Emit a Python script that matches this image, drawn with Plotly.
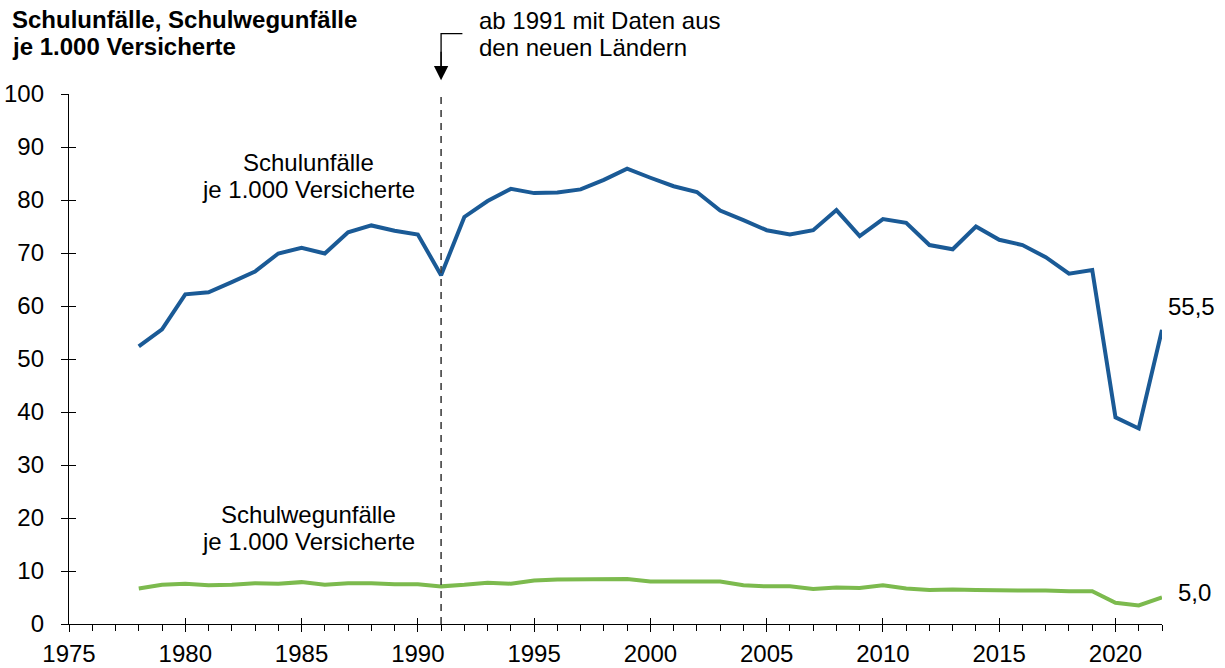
import plotly.graph_objects as go

# Jahre und Werte (je 1.000 Versicherte)
jahre = list(range(1978, 2023))
schulunfaelle = [52.4, 55.6, 62.2, 62.6, 64.5, 66.5, 69.9, 71.0, 69.9, 73.9,
                 75.2, 74.2, 73.5, 65.8, 76.8, 79.8, 82.1, 81.3, 81.4, 82.0,
                 83.8, 85.9, 84.2, 82.6, 81.5, 78.0, 76.2, 74.3, 73.5, 74.3,
                 78.1, 73.2, 76.4, 75.7, 71.5, 70.7, 75.0, 72.5, 71.5, 69.2,
                 66.1, 66.8, 39.0, 36.9, 55.5]
schulwegunfaelle = [6.7, 7.4, 7.6, 7.3, 7.4, 7.7, 7.6, 7.9, 7.4, 7.7,
                    7.7, 7.5, 7.5, 7.1, 7.4, 7.8, 7.6, 8.2, 8.4, 8.4,
                    8.5, 8.5, 8.0, 8.0, 7.9, 8.0, 7.3, 7.1, 7.1, 6.6,
                    6.9, 6.8, 7.3, 6.7, 6.4, 6.5, 6.4, 6.4, 6.4, 6.3,
                    6.2, 6.2, 4.0, 3.5, 5.0]
x_ticks = [1975, 1980, 1985, 1990, 1995, 2000, 2005, 2010, 2015, 2020]
y_ticks = list(range(0, 101, 10))
bruchjahr = 1991

BLAU = "#1a5a96"
GRUEN = "#7cba4e"
FONT = "Liberation Sans, Arial, sans-serif"
FS = 24
ZEILE = 27  # Zeilenabstand in px

x_min, x_max = 1975, 2022

fig = go.Figure()

fig.add_trace(go.Scatter(x=jahre, y=schulunfaelle, mode="lines",
                         line=dict(color=BLAU, width=4), hoverinfo="x+y"))
# zweite Reihe auf den überlagerten Achsen (für die gekreuzten Ticks)
fig.add_trace(go.Scatter(x=jahre, y=schulwegunfaelle, mode="lines",
                         line=dict(color=GRUEN, width=4), hoverinfo="x+y",
                         xaxis="x2", yaxis="y2"))

achse = dict(showline=True, linecolor="black", linewidth=1.3, showgrid=False,
             zeroline=False, tickcolor="black", tickwidth=1.3, automargin=False)

fig.update_layout(
    width=1225, height=668,
    margin=dict(l=69, r=63, t=94, b=44),
    plot_bgcolor="white", paper_bgcolor="white",
    showlegend=False,
    font=dict(family=FONT, size=FS, color="black"),
    xaxis=dict(achse, range=[x_min, x_max], tickvals=x_ticks, ticks="outside",
               ticklen=7, ticklabelstandoff=1,
               minor=dict(ticks="outside", ticklen=6, dtick=1, tick0=1975,
                          tickcolor="black", tickwidth=1.3, showgrid=False)),
    yaxis=dict(achse, range=[0, 100], tickvals=y_ticks, ticks="outside",
               ticklen=7, ticklabelstandoff=12),
    xaxis2=dict(achse, range=[x_min, x_max], tickvals=x_ticks, ticks="inside",
                ticklen=6, showticklabels=False, overlaying="x"),
    yaxis2=dict(achse, range=[0, 100], tickvals=y_ticks, ticks="inside",
                ticklen=7, showticklabels=False, overlaying="y"),
)


def text_zeilen(zeilen, x, y, xref="x", yref="y", xanchor="center", fett=False):
    # mehrzeiliger Text mit engem Zeilenabstand
    n = len(zeilen)
    for i, z in enumerate(zeilen):
        fig.add_annotation(x=x, y=y, xref=xref, yref=yref, showarrow=False,
                           text=f"<b>{z}</b>" if fett else z,
                           xanchor=xanchor, yanchor="middle",
                           yshift=((n - 1) / 2 - i) * ZEILE)


# Titel
text_zeilen(["Schulunfälle, Schulwegunfälle", "je 1.000 Versicherte"],
            x=(10 - 69) / 1093, y=(624 - 33.5) / 530, xref="paper", yref="paper",
            xanchor="left", fett=True)

# Bruchlinie 1991
fig.add_shape(type="line", xref="x", yref="paper", x0=bruchjahr, x1=bruchjahr,
              y0=0, y1=1.004, line=dict(color="#404040", width=1.6, dash="7px,6px"))

# Hinweis mit Winkelpfeil
x_bruch = (bruchjahr - x_min) / (x_max - x_min)
fig.add_shape(type="path", xref="paper", yref="paper",
              path=f"M {x_bruch + 0.0195},1.114 L {x_bruch},1.114 L {x_bruch},1.05",
              line=dict(color="black", width=1.3))
fig.add_annotation(x=bruchjahr, y=1.026, xref="x", yref="paper", text="",
                   showarrow=True, arrowhead=2, arrowsize=2.2, arrowwidth=1.3,
                   arrowcolor="black", ax=0, ay=-30)
text_zeilen(["ab 1991 mit Daten aus", "den neuen Ländern"],
            x=x_bruch + 0.0333, y=(624 - 34) / 530, xref="paper", yref="paper",
            xanchor="left")

# Reihenbeschriftungen
text_zeilen(["Schulunfälle", "je 1.000 Versicherte"], x=1985.3, y=84.6)
text_zeilen(["Schulwegunfälle", "je 1.000 Versicherte"], x=1985.3, y=18.1)

# Endwerte
fig.add_annotation(x=jahre[-1], y=schulunfaelle[-1],
                   text=f"{schulunfaelle[-1]:.1f}".replace(".", ","),
                   showarrow=False, xanchor="left", xshift=4, yshift=23)
fig.add_annotation(x=jahre[-1], y=schulwegunfaelle[-1],
                   text=f"{schulwegunfaelle[-1]:.1f}".replace(".", ","),
                   showarrow=False, xanchor="left", xshift=14, yshift=5)

fig.write_html("out.html", config={"displayModeBar": False},
               post_script="document.body.style.margin='0';")
